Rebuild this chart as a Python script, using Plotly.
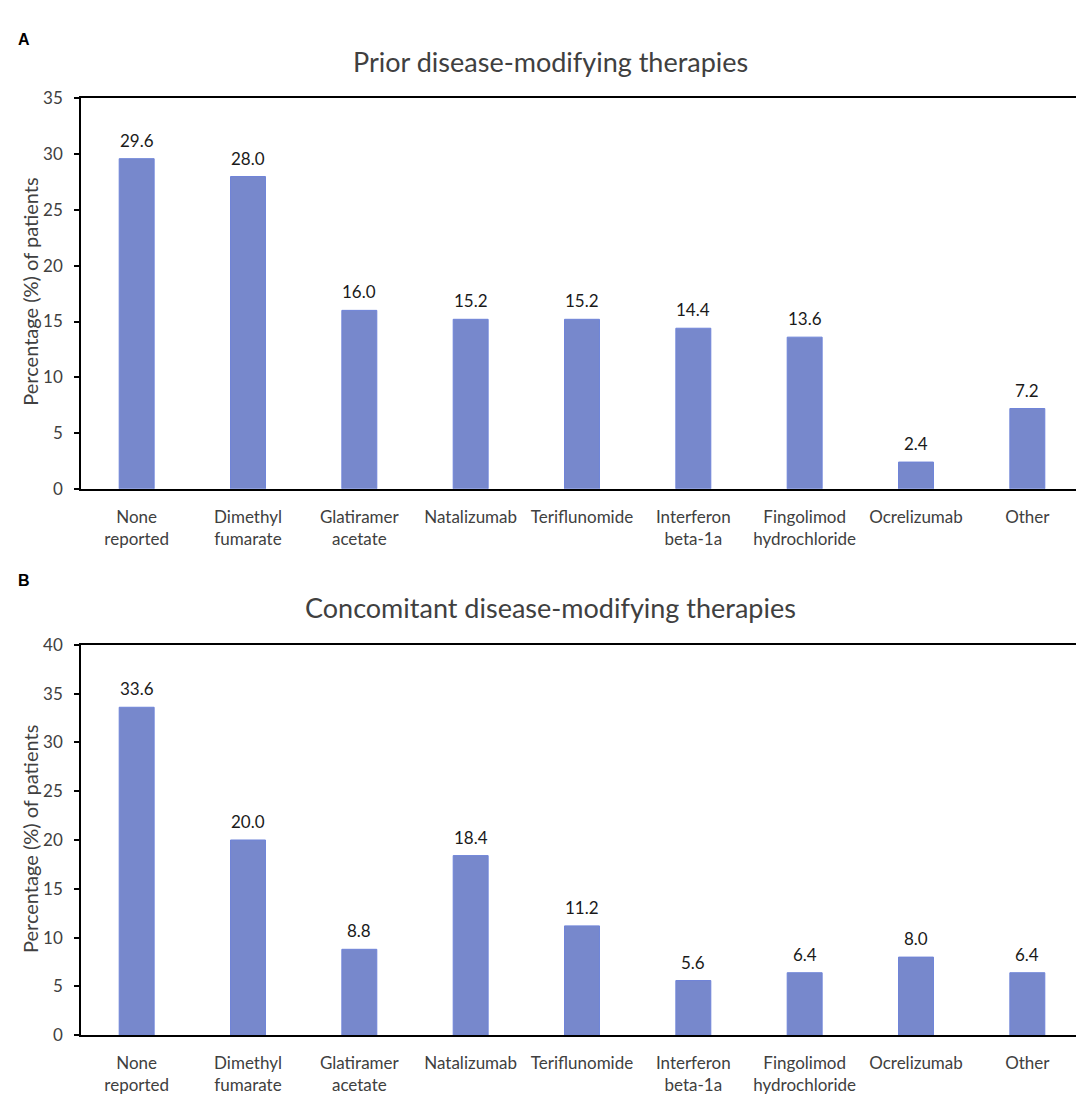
import plotly.graph_objects as go

# categories (two-line labels as in the figure)
therapies = ['None<br>reported', 'Dimethyl<br>fumarate', 'Glatiramer<br>acetate', 'Natalizumab',
             'Teriflunomide', 'Interferon<br>beta-1a', 'Fingolimod<br>hydrochloride', 'Ocrelizumab', 'Other']
# % of patients
prior_pct = [29.6, 28.0, 16.0, 15.2, 15.2, 14.4, 13.6, 2.4, 7.2]
concomitant_pct = [33.6, 20.0, 8.8, 18.4, 11.2, 5.6, 6.4, 8.0, 6.4]

W, H = 1084, 1098
barFill = '#7788cc'
barEdge = '#6f84d8'
fontFam = 'Lato, Open Sans, sans-serif'

def py(px):
    return 1 - px / H

fig = go.Figure()
fig.add_trace(go.Bar(x=therapies, y=prior_pct, xaxis='x', yaxis='y',
                     marker=dict(color=barFill, line=dict(color=barEdge, width=1))))
fig.add_trace(go.Bar(x=therapies, y=concomitant_pct, xaxis='x2', yaxis='y2',
                     marker=dict(color=barFill, line=dict(color=barEdge, width=1))))

# value labels above bars
annots = []
for xa, ya, vals in [('x', 'y', prior_pct), ('x2', 'y2', concomitant_pct)]:
    for c, v in zip(therapies, vals):
        annots.append(dict(x=c, y=v, xref=xa, yref=ya, text=f'{v:.1f}', showarrow=False,
                           yanchor='bottom', yshift=6, font=dict(size=17, color='#1a1a1a', family=fontFam)))

# panel letters, titles, y-axis titles
annots += [
    dict(x=8 / W, y=py(21), xref='paper', yref='paper', text='<b>A</b>', showarrow=False,
         xanchor='left', yanchor='middle', font=dict(size=16, color='black', family='Liberation Sans, Arial')),
    dict(x=8 / W, y=py(572), xref='paper', yref='paper', text='<b>B</b>', showarrow=False,
         xanchor='left', yanchor='middle', font=dict(size=16, color='black', family='Liberation Sans, Arial')),
    dict(x=0.5, y=py(43), xref='paper', yref='paper', text='Prior disease-modifying therapies', showarrow=False,
         xanchor='center', yanchor='middle', font=dict(size=27, color='#404040', family=fontFam)),
    dict(x=0.5, y=py(600), xref='paper', yref='paper', text='Concomitant disease-modifying therapies', showarrow=False,
         xanchor='center', yanchor='middle', font=dict(size=27, color='#404040', family=fontFam)),
    dict(x=22 / W, y=py(278), xref='paper', yref='paper', text='Percentage (%) of patients', showarrow=False,
         textangle=-90, xanchor='center', yanchor='middle', font=dict(size=20, color='#404040', family=fontFam)),
    dict(x=22 / W, y=py(836), xref='paper', yref='paper', text='Percentage (%) of patients', showarrow=False,
         textangle=-90, xanchor='center', yanchor='middle', font=dict(size=20, color='#404040', family=fontFam)),
]

xdom = [73 / W, 1075 / W]
axStyle = dict(showline=True, mirror=True, linecolor='black', linewidth=1.5, showgrid=False, zeroline=False,
               tickfont=dict(size=17, color='#404040', family=fontFam))
xStyle = dict(domain=xdom, ticks='', ticklabelstandoff=12, **axStyle)
yStyle = dict(dtick=5, ticks='outside', ticklen=5, tickcolor='black', tickwidth=1.5,
              ticklabelstandoff=8, **axStyle)
fig.update_layout(
    width=W, height=H, margin=dict(l=0, r=0, t=0, b=0),
    paper_bgcolor='white', plot_bgcolor='white', showlegend=False, bargap=0.686,
    annotations=annots,
    xaxis=dict(anchor='y', **xStyle),
    yaxis=dict(domain=[py(479), py(81)], anchor='x', range=[0, 35], **yStyle),
    xaxis2=dict(anchor='y2', **xStyle),
    yaxis2=dict(domain=[py(1036), py(638)], anchor='x2', range=[0, 40], **yStyle),
)

fig.write_html('out.html')
